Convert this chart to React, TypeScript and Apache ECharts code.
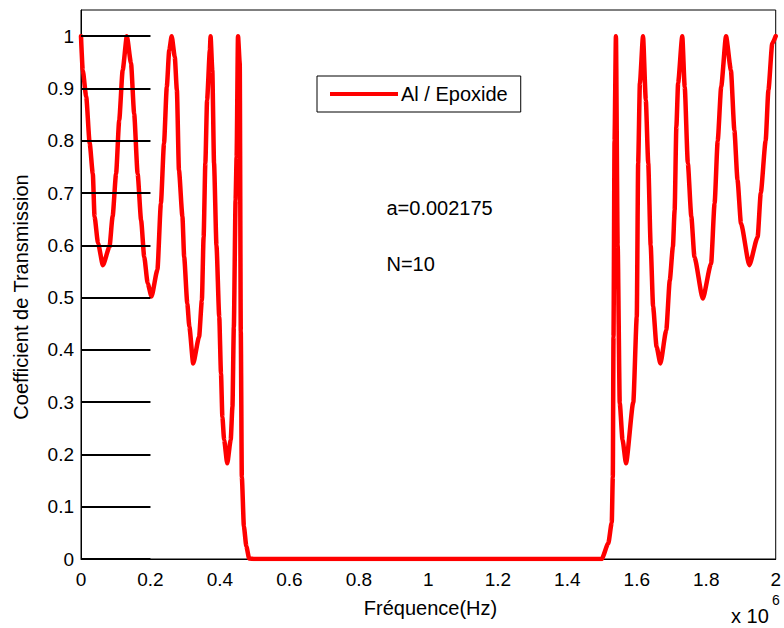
import React, { useEffect, useRef } from "react";
import * as echarts from "echarts";

// Frequency in units of 10^6 Hz, transmission coefficient
const leftFreq = [
  0.0, 0.005, 0.015, 0.025, 0.034, 0.039, 0.049, 0.063, 0.082, 0.091, 0.101, 0.11, 0.12, 0.132,
  0.144, 0.153, 0.163, 0.173, 0.182, 0.192, 0.203, 0.22, 0.23, 0.239, 0.247, 0.254, 0.261,
  0.27, 0.276, 0.282, 0.292, 0.297, 0.306, 0.312, 0.323, 0.34, 0.348, 0.353, 0.358, 0.363,
  0.371, 0.373, 0.378, 0.383, 0.39, 0.398, 0.403, 0.407, 0.412, 0.421, 0.431, 0.436, 0.44,
  0.445, 0.448, 0.452, 0.457, 0.46, 0.463, 0.469, 0.476, 0.484,
];
const leftT = [
  1.0, 0.935, 0.884, 0.795, 0.737, 0.655, 0.604, 0.562, 0.597, 0.655, 0.737, 0.839, 0.935, 1.0,
  0.948, 0.852, 0.737, 0.648, 0.578, 0.527, 0.502, 0.553, 0.68, 0.795, 0.903, 0.973, 1.0,
  0.96, 0.897, 0.744, 0.655, 0.578, 0.489, 0.444, 0.374, 0.425, 0.495, 0.616, 0.757, 0.878,
  0.973, 1.0, 0.935, 0.757, 0.6, 0.463, 0.355, 0.272, 0.228, 0.183, 0.228, 0.291, 0.444,
  0.686, 0.769, 1.0, 0.948, 0.435, 0.157, 0.062, 0.024, 0.001,
];
const gapFreq = [0.5, 0.8, 1.2, 1.499];
const gapT = [0, 0, 0, 0];
const rightFreq = [
  1.518, 1.528, 1.531, 1.533, 1.536, 1.54, 1.545, 1.551, 1.559, 1.569, 1.59, 1.6, 1.604, 1.609,
  1.618, 1.626, 1.633, 1.64, 1.647, 1.657, 1.668, 1.685, 1.695, 1.704, 1.709, 1.714, 1.719,
  1.731, 1.738, 1.747, 1.757, 1.766, 1.79, 1.814, 1.824, 1.833, 1.843, 1.857, 1.871, 1.881,
  1.89, 1.9, 1.924, 1.948, 1.957, 1.971, 1.979, 1.99, 2.0,
];
const rightT = [
  0.03, 0.07, 0.157, 0.425, 0.8, 1.0, 0.6, 0.298, 0.228, 0.183, 0.3, 0.463, 0.757, 0.91,
  1.0, 0.878, 0.757, 0.6, 0.483, 0.406, 0.374, 0.438, 0.533, 0.597, 0.667, 0.827, 0.91,
  1.0, 0.903, 0.757, 0.655, 0.578, 0.498, 0.565, 0.68, 0.8, 0.903, 1.0, 0.935, 0.82,
  0.725, 0.642, 0.562, 0.616, 0.7, 0.8, 0.897, 0.986, 1.0,
];
const yTicks = [0, 0.1, 0.2, 0.3, 0.4, 0.5, 0.6, 0.7, 0.8, 0.9, 1.0];
const tickStubEnd = 0.2;

const seriesName = "Al / Epoxide";
const annotA = "a=0.002175";
const annotN = "N=10";
const xName = "Fréquence(Hz)";
const yName = "Coefficient de Transmission";

const FONT = "Arial, 'Liberation Sans', sans-serif";

export default function App() {
  const ref = useRef<HTMLDivElement>(null);
  useEffect(() => {
    if (!ref.current) return;
    const chart = echarts.init(ref.current, null, { renderer: "svg" });
    const freq = [...leftFreq, ...gapFreq, ...rightFreq];
    const trans = [...leftT, ...gapT, ...rightT];
    const data = freq.map((f, i) => [f, trans[i]]);
    const stubs = yTicks.map((v) => [
      { coord: [0, v] },
      { coord: [tickStubEnd, v] },
    ]);
    chart.setOption({
      animation: false,
      backgroundColor: "#fff",
      textStyle: { fontFamily: FONT },
      grid: {
        left: 81,
        right: 4,
        top: 10,
        bottom: 69,
        show: true,
        borderColor: "#000",
        borderWidth: 1,
        backgroundColor: "transparent",
      },
      legend: {
        left: 317,
        top: 76,
        padding: [8, 13, 8, 13],
        borderColor: "#000",
        borderWidth: 1,
        backgroundColor: "#fff",
        itemWidth: 68,
        itemHeight: 4,
        itemGap: 0,
        icon: "rect",
        textStyle: { fontSize: 20, color: "#000", fontFamily: FONT, lineHeight: 20, padding: [0, 0, 0, -2] },
        data: [seriesName],
      },
      xAxis: {
        type: "value",
        min: 0,
        max: 2,
        interval: 0.2,
        axisLine: { show: true, lineStyle: { color: "#000", width: 1 } },
        axisTick: { show: false },
        splitLine: { show: false },
        axisLabel: {
          fontSize: 19,
          color: "#000",
          fontFamily: FONT,
          margin: 11,
          formatter: (v: number) => String(+v.toFixed(1)),
        },
      },
      yAxis: {
        type: "value",
        min: 0,
        max: 1.05,
        interval: 0.1,
        axisLine: { show: true, lineStyle: { color: "#000", width: 1 } },
        axisTick: { show: false },
        splitLine: { show: false },
        axisLabel: {
          fontSize: 19,
          color: "#000",
          fontFamily: FONT,
          margin: 7,
          formatter: (v: number) =>
            Math.abs(v * 10 - Math.round(v * 10)) < 1e-6 ? String(+v.toFixed(1)) : "",
        },
      },
      graphic: [
        {
          type: "text",
          x: 386.5,
          y: 207.5,
          style: { text: annotA, fontSize: 20, fontFamily: FONT, fill: "#000", verticalAlign: "middle" },
        },
        {
          type: "text",
          x: 386.5,
          y: 263.5,
          style: { text: annotN, fontSize: 20, fontFamily: FONT, fill: "#000", verticalAlign: "middle" },
        },
        {
          type: "text",
          x: 430.5,
          y: 608,
          style: { text: xName, fontSize: 20, fontFamily: FONT, fill: "#000", align: "center", verticalAlign: "middle" },
        },
        {
          type: "text",
          x: 21,
          y: 297,
          rotation: Math.PI / 2,
          style: { text: yName, fontSize: 20, fontFamily: FONT, fill: "#000", align: "center", verticalAlign: "middle" },
        },
        {
          type: "text",
          x: 731,
          y: 616,
          style: { text: "x 10", fontSize: 20, fontFamily: FONT, fill: "#000", verticalAlign: "middle" },
        },
        {
          type: "text",
          x: 772,
          y: 600,
          style: { text: "6", fontSize: 14, fontFamily: FONT, fill: "#000", verticalAlign: "middle" },
        },
      ],
      series: [
        {
          name: seriesName,
          type: "line",
          data,
          symbol: "none",
          color: "#ff0000",
          smooth: 0.2,
          smoothMonotone: "x",
          lineStyle: { color: "#ff0000", width: 4.5, join: "round", cap: "round" },
          clip: true,
          markLine: {
            silent: true,
            symbol: "none",
            label: { show: false },
            lineStyle: { color: "#000", width: 2, type: "solid" },
            data: stubs,
          },
          z: 3,
        },
      ],
    });
    return () => chart.dispose();
  }, []);
  return (
    <div
      ref={ref}
      style={{ position: "fixed", left: 0, top: 0, width: 784, height: 628 }}
    />
  );
}
